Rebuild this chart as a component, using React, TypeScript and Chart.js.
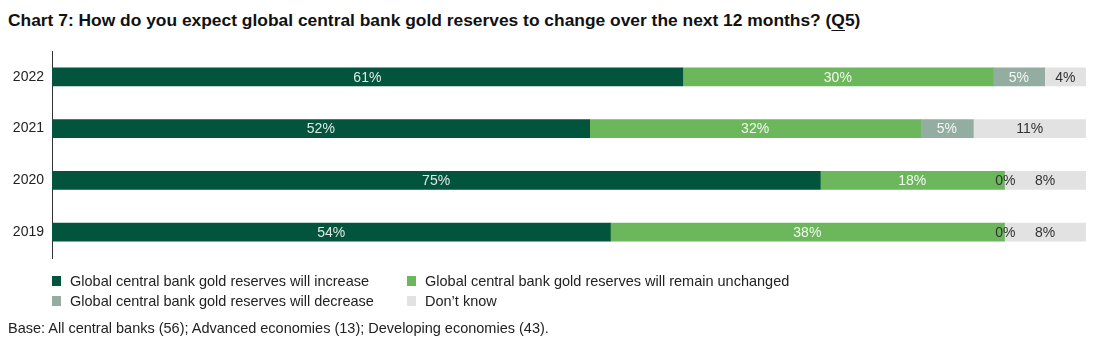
import React, { useEffect, useRef } from "react";
import { Chart, registerables } from "chart.js";

Chart.register(...registerables);

const categories = ["2022", "2021", "2020", "2019"];
const increase = [61, 52, 74.3, 54];
const unchanged = [30, 32, 17.8, 38.1];
const decrease = [5, 5.1, 0, 0];
const dontKnow = [4, 10.9, 7.9, 7.9];

const increaseLabels = ["61%", "52%", "75%", "54%"];
const unchangedLabels = ["30%", "32%", "18%", "38%"];
const decreaseLabels = ["5%", "5%", "0%", "0%"];
const dontKnowLabels = ["4%", "11%", "8%", "8%"];

const seriesNames = [
  "Global central bank gold reserves will increase",
  "Global central bank gold reserves will remain unchanged",
  "Global central bank gold reserves will decrease",
  "Don\u2019t know",
];

const COLORS = ["#02553c", "#6cb75b", "#93ada1", "#e2e2e2"];
const LABEL_COLORS = ["#dfe8e3", "#f2f8f0", "#f4f6f5", "#333333"];
const FONT = "'Liberation Sans', Arial, sans-serif";

const barLabelPlugin = {
  id: "barLabels",
  afterDatasetsDraw(chart: any) {
    const ctx = chart.ctx;
    ctx.save();
    ctx.font = `14px ${FONT}`;
    ctx.textAlign = "center";
    ctx.textBaseline = "middle";
    chart.data.datasets.forEach((ds: any, di: number) => {
      const meta = chart.getDatasetMeta(di);
      meta.data.forEach((el: any, i: number) => {
        const val = ds.data[i];
        const left = Math.min(el.x, el.base);
        const right = Math.max(el.x, el.base);
        const cx = (left + right) / 2;
        ctx.fillStyle = val === 0 ? "#333333" : LABEL_COLORS[di];
        ctx.fillText(ds.labelsText[i], cx + (val === 0 ? 1 : 0), el.y + 1);
      });
    });
    ctx.restore();
  },
};

export default function App() {
  const ref = useRef<HTMLCanvasElement>(null);

  useEffect(() => {
    if (!ref.current) return;
    const values = [increase, unchanged, decrease, dontKnow];
    const labelTexts = [increaseLabels, unchangedLabels, decreaseLabels, dontKnowLabels];
    const chart = new Chart(ref.current, {
      type: "bar",
      data: {
        labels: categories,
        datasets: values.map((v, i) => ({
          label: seriesNames[i],
          data: v,
          backgroundColor: COLORS[i],
          borderWidth: 0,
          barThickness: 18,
          labelsText: labelTexts[i],
        })) as any,
      },
      options: {
        indexAxis: "y",
        animation: false,
        responsive: false,
        maintainAspectRatio: false,
        layout: { padding: { left: 0, right: 22, top: 43, bottom: 85 } },
        plugins: {
          legend: { display: false },
          tooltip: { enabled: false },
          title: { display: false },
        },
        scales: {
          x: { stacked: true, min: 0, max: 100, display: false },
          y: {
            stacked: true,
            grid: { display: false, drawTicks: false },
            border: { display: true, color: "#333333", width: 1 },
            ticks: {
              padding: 8,
              color: "#222222",
              font: { family: FONT, size: 14 },
            },
            afterFit: (scale: any) => {
              scale.width = 44;
            },
          },
        },
      },
      plugins: [barLabelPlugin],
    });
    return () => chart.destroy();
  }, []);

  const legendItem = (i: number, left: number, top: number) => (
    <div
      key={i}
      style={{
        position: "absolute",
        left,
        top,
        display: "flex",
        alignItems: "center",
        fontFamily: FONT,
        fontSize: 14.5,
        color: "#222",
        whiteSpace: "nowrap",
        lineHeight: "16px",
      }}
    >
      <span
        style={{
          display: "inline-block",
          width: 9,
          height: 10,
          background: COLORS[i],
          marginRight: 9,
        }}
      />
      {seriesNames[i]}
    </div>
  );

  return (
    <div style={{ position: "relative", width: 1100, height: 335 }}>
      <div
        style={{
          position: "absolute",
          left: 0,
          top: 2,
          fontFamily: FONT,
          fontWeight: "bold",
          fontSize: 17.4,
          lineHeight: "20px",
          color: "#111",
          whiteSpace: "nowrap",
        }}
      >
        Chart 7: How do you expect global central bank gold reserves to change over the next 12 months? (
        <span style={{ textDecoration: "underline", textUnderlineOffset: 4 }}>Q</span>5)
      </div>
      <canvas
        ref={ref}
        width={1100}
        height={335}
        style={{ position: "absolute", left: 0, top: 0, width: 1100, height: 335 }}
      />
      {legendItem(0, 44, 265)}
      {legendItem(1, 399, 265)}
      {legendItem(2, 44, 285)}
      {legendItem(3, 399, 285)}
      <div
        style={{
          position: "absolute",
          left: 0,
          top: 312,
          fontFamily: FONT,
          fontSize: 14.5,
          color: "#222",
          whiteSpace: "nowrap",
          lineHeight: "16px",
        }}
      >
        Base: All central banks (56); Advanced economies (13); Developing economies (43).
      </div>
    </div>
  );
}
